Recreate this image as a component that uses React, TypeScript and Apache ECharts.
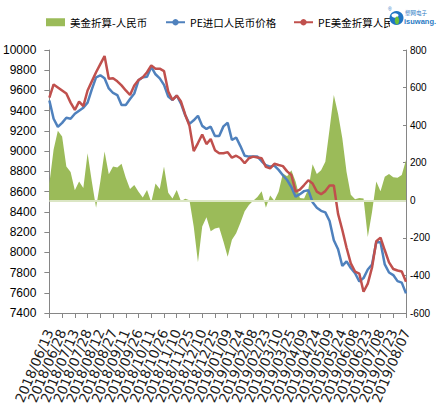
import React, { useEffect, useRef } from "react";
import * as echarts from "echarts";

// ---- data ----
const START_DATE = "2018/06/13";
const STEP_DAYS = 5;
const POINT_COUNT = 85;
const LABEL_EVERY = 3; // one date label every 15 days

const NAME_SPREAD = "美金折算-人民币";
const NAME_CNY = "PE进口人民币价格";
const NAME_USD = "PE美金折算人民币价格";

// 美金折算-人民币 (right axis)
const spreadValues = [
  90, 270, 370, 340, 180, 150, 53, 100, 65, 250,
  100, -40, 100, 260, 138, 180, 175, 195, 120, 60,
  82, 45, 15, 55, -10, 90, 60, 180, 40, 10,
  55, -5, 8, 0, -140, -330, -140, -90, -165, -150,
  -145, -220, -300, -210, -175, -120, -58, -25, -3, 18,
  48, -40, 25, -3, 45, 142, 128, 160, 100, 12,
  10, 60, 192, 140, 160, 205, 380, 560, 460, 330,
  150, 30, 5, 12, 10, -195, -62, 100, 48, 125,
  140, 122, 120, 135, 215,
];

// PE进口人民币价格 (left axis)
const cnyValues = [
  9500, 9320, 9240, 9280, 9330, 9320, 9370, 9400, 9430, 9480,
  9610, 9730, 9750, 9720, 9620, 9575, 9555, 9456, 9456, 9515,
  9570, 9700, 9730, 9736, 9833, 9760, 9720, 9655, 9540, 9506,
  9550, 9470, 9355, 9270, 9305, 9350, 9250, 9220, 9242, 9150,
  9150, 9245, 9280, 9110, 9135, 9050, 8955, 8946, 8946, 8946,
  8900, 8860, 8847, 8858, 8815, 8762, 8715, 8645, 8550, 8575,
  8605, 8614, 8495, 8440, 8410, 8395, 8310, 8120, 8030, 7865,
  7910, 7845, 7793, 7712, 7745, 7830, 7880, 8100, 8100, 7880,
  7800, 7775, 7715, 7700, 7594,
];

// PE美金折算人民币价格 (left axis)
const usdValues = [
  9530, 9660, 9630, 9600, 9570, 9480, 9407, 9490, 9445, 9600,
  9690, 9780, 9860, 9940, 9715, 9720, 9690, 9650, 9600, 9555,
  9650, 9703, 9730, 9780, 9848, 9815, 9815, 9792, 9590, 9506,
  9550, 9490, 9360, 9250, 9000, 9080, 9165, 9070, 9120, 9010,
  8979, 8979, 8990, 8935, 8955, 8930, 8880, 8930, 8946, 8938,
  8929, 8845, 8830, 8875, 8863, 8852, 8800, 8764, 8600, 8620,
  8665, 8712, 8680, 8600, 8575, 8605, 8660, 8660, 8380, 8220,
  8045, 7890, 7810, 7790, 7610, 7690, 7850, 8110, 8145, 8020,
  7900, 7835, 7820, 7810, 7710,
];

const LEFT_MIN = 7400;
const LEFT_MAX = 10000;
const RIGHT_MIN = -600;
const RIGHT_MAX = 800;

function buildDates(): string[] {
  const [y, m, d] = START_DATE.split("/").map(Number);
  const base = Date.UTC(y, m - 1, d);
  const out: string[] = [];
  for (let i = 0; i < POINT_COUNT; i++) {
    const t = new Date(base + i * STEP_DAYS * 86400000);
    const mm = String(t.getUTCMonth() + 1).padStart(2, "0");
    const dd = String(t.getUTCDate()).padStart(2, "0");
    out.push(`${t.getUTCFullYear()}/${mm}/${dd}`);
  }
  return out;
}
const dates = buildDates();
const tickLabels = dates.filter((_, i) => i % LABEL_EVERY === 0);

const GREEN = "#9BBB59";
const BLUE = "#4F81BD";
const RED = "#C0504D";
const AXIS = "#868686";

const legendText = { fontFamily: "Noto Sans CJK SC", fontSize: 10.5, color: "#000" };
const legendBase = {
  top: 12,
  width: 600,
  itemWidth: 19,
  itemHeight: 8,
  selectedMode: false,
  textStyle: legendText,
};

const logoElements: any[] = [
  { type: "rect", z: 100, shape: { x: 390, y: 2, width: 53, height: 30 }, style: { fill: "#ffffff" } },
  { type: "circle", z: 101, shape: { cx: 396.5, cy: 18, r: 7 }, style: { fill: "#1f74c4" } },
  { type: "ellipse", z: 102, shape: { cx: 395, cy: 15.5, rx: 3.5, ry: 2.2 }, style: { fill: "#ffffff" } },
  { type: "ellipse", z: 103, shape: { cx: 397, cy: 20.5, rx: 2.2, ry: 4 }, style: { fill: "#6cbf3a" } },
  { type: "text", z: 101, x: 388, y: 6, style: { text: "®", fontSize: 5, fill: "#1f74c4", verticalAlign: "top" } },
  {
    type: "text", z: 101, x: 405, y: 9.5,
    style: { text: "塑网电子", fontSize: 5.5, lineHeight: 6, fill: "#2a7bc4", fontFamily: "Noto Sans CJK SC", verticalAlign: "top" },
  },
  {
    type: "text", z: 101, x: 404, y: 18,
    style: { text: "isuwang.", fontSize: 7.5, lineHeight: 7, fontWeight: "bold", fill: "#2a7bc4", fontFamily: "Liberation Sans, Arial", verticalAlign: "top" },
  },
];

export default function App() {
  const ref = useRef<HTMLDivElement>(null);
  useEffect(() => {
    document.body.style.margin = "0";
    if (!ref.current) return;
    const chart = echarts.init(ref.current, undefined, { renderer: "svg" });
    const option: any = {
      animation: false,
      backgroundColor: "#ffffff",
      textStyle: { fontFamily: "Liberation Sans, Arial, sans-serif" },
      legend: [
        { ...legendBase, left: 41, data: [{ name: NAME_SPREAD, icon: "rect" }] },
        { ...legendBase, left: 160, data: [{ name: NAME_CNY }] },
        { ...legendBase, left: 288, data: [{ name: NAME_USD }] },
      ],
      grid: { left: 48, right: 37, top: 50, bottom: 103, containLabel: false },
      xAxis: {
        type: "category",
        data: dates,
        boundaryGap: false,
        axisLine: { onZero: false, lineStyle: { color: AXIS, width: 1 } },
        axisTick: { interval: LABEL_EVERY - 1, length: 5, lineStyle: { color: AXIS } },
        axisLabel: { show: false },
        splitLine: { show: false },
      },
      yAxis: [
        {
          type: "value",
          min: LEFT_MIN,
          max: LEFT_MAX,
          interval: 200,
          position: "left",
          axisLine: { show: true, lineStyle: { color: AXIS } },
          axisTick: { show: true, length: 5, lineStyle: { color: AXIS } },
          axisLabel: {
            fontSize: 12,
            color: "#000",
            margin: 13,
            fontFamily: "Liberation Sans, Arial",
            formatter: (v: number) => String(v),
          },
          splitLine: { show: false },
        },
        {
          type: "value",
          min: RIGHT_MIN,
          max: RIGHT_MAX,
          interval: 200,
          position: "right",
          axisLine: { show: true, lineStyle: { color: AXIS } },
          axisTick: { show: true, inside: true, length: 3, lineStyle: { color: AXIS } },
          axisLabel: {
            fontSize: 10,
            color: "#000",
            margin: 4,
            fontFamily: "Liberation Sans Narrow, Liberation Sans, Arial",
            formatter: (v: number) => String(v),
          },
          splitLine: { show: false },
        },
      ],
      series: [
        {
          name: NAME_SPREAD,
          type: "line",
          yAxisIndex: 1,
          data: spreadValues,
          symbol: "none",
          lineStyle: { width: 0, color: GREEN },
          itemStyle: { color: GREEN },
          areaStyle: { color: GREEN, opacity: 1, origin: 0 },
          z: 1,
          markLine: {
            silent: true,
            symbol: "none",
            label: { show: false },
            lineStyle: { color: "#dbe6c4", width: 2, type: "solid" },
            data: [{ yAxis: 0 }],
          },
        },
        {
          name: NAME_CNY,
          type: "line",
          yAxisIndex: 0,
          data: cnyValues,
          symbol: "none",
          lineStyle: { width: 2.5, color: BLUE },
          itemStyle: { color: BLUE },
          z: 3,
        },
        {
          name: NAME_USD,
          type: "line",
          yAxisIndex: 0,
          data: usdValues,
          symbol: "none",
          lineStyle: { width: 2.5, color: RED },
          itemStyle: { color: RED },
          z: 4,
        },
      ],
      graphic: { elements: logoElements },
    };
    chart.setOption(option);

    // Rotated date labels, positioned through the chart's own category axis.
    const axisY = chart.convertToPixel({ yAxisIndex: 0 }, LEFT_MIN) as number;
    const labelEls = tickLabels.map((label) => {
      const x = chart.convertToPixel({ xAxisIndex: 0 }, label) as number;
      return {
        type: "text",
        z: 50,
        x,
        y: axisY + 17,
        rotation: (67 * Math.PI) / 180,
        style: {
          text: label,
          align: "right",
          verticalAlign: "middle",
          fontSize: 13.5,
          fontFamily: "DejaVu Sans",
          fill: "#1a1a1a",
        },
      };
    });
    chart.setOption({ graphic: { elements: [...logoElements, ...labelEls] } });

    return () => chart.dispose();
  }, []);
  return (
    <div
      ref={ref}
      style={{ position: "fixed", left: 0, top: 0, width: 443, height: 416, background: "#fff" }}
    />
  );
}
